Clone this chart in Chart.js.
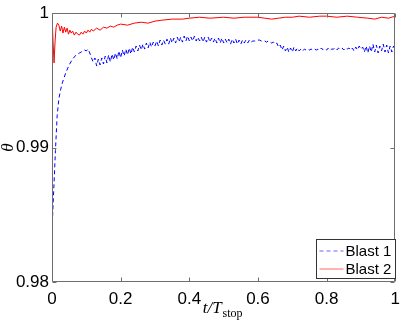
<!DOCTYPE html>
<html>
<head>
<meta charset="utf-8">
<script src="https://cdn.jsdelivr.net/npm/chart.js@4"></script>
<style>
html,body{margin:0;padding:0;background:#fff;}
#wrap{width:407px;height:323px;}
</style>
</head>
<body>
<div id="wrap"><canvas id="c" width="407" height="323"></canvas></div>
<script>
// ---- data ----
const xTicks = [0, 0.2, 0.4, 0.6, 0.8, 1];
const xTickLabels = ["0", "0.2", "0.4", "0.6", "0.8", "1"];
const yTicks = [0.98, 0.99, 1];
const yTickLabels = ["0.98", "0.99", "1"];
const seriesNames = ["Blast 1", "Blast 2"];

const blast1T = [
0,0.005,0.01,0.015,0.02,0.025,0.03,0.035,0.04,0.045,0.05,0.055,0.06,0.065,0.07,0.075,0.08,0.085,0.09,0.095,
0.1,0.105,0.11,0.115,0.12,0.125,0.13,0.135,0.14,0.145,0.15,0.155,0.16,0.165,0.17,0.175,0.18,0.185,0.19,0.195,
0.2,0.205,0.21,0.215,0.22,0.225,0.23,0.235,0.24,0.245,0.25,0.255,0.26,0.265,0.27,0.275,0.28,0.285,0.29,0.295,
0.3,0.305,0.31,0.315,0.32,0.325,0.33,0.335,0.34,0.345,0.35,0.355,0.36,0.365,0.37,0.375,0.38,0.385,0.39,0.395,
0.4,0.405,0.41,0.415,0.42,0.425,0.43,0.435,0.44,0.445,0.45,0.455,0.46,0.465,0.47,0.475,0.48,0.485,0.49,0.495,
0.5,0.505,0.51,0.515,0.52,0.525,0.53,0.535,0.54,0.545,0.55,0.555,0.56,0.565,0.57,0.575,0.58,0.585,0.59,0.595,
0.6,0.605,0.61,0.615,0.62,0.625,0.63,0.635,0.64,0.645,0.65,0.655,0.66,0.665,0.67,0.675,0.68,0.685,0.69,0.695,
0.7,0.705,0.71,0.715,0.72,0.725,0.73,0.735,0.74,0.745,0.75,0.755,0.76,0.765,0.77,0.775,0.78,0.785,0.79,0.795,
0.8,0.805,0.81,0.815,0.82,0.825,0.83,0.835,0.84,0.845,0.85,0.855,0.86,0.865,0.87,0.875,0.88,0.885,0.89,0.895,
0.9,0.905,0.91,0.915,0.92,0.925,0.93,0.935,0.94,0.945,0.95,0.955,0.96,0.965,0.97,0.975,0.98,0.985,0.99,0.995,1
];
const blast1V = [
0.98385,0.98681,0.98978,0.99237,0.99363,0.9943,0.99481,0.99519,0.99556,0.99585,0.99615,0.99637,0.99659,0.99674,0.99689,0.99696,0.99704,0.99711,0.99719,0.99726,
0.99719,0.99733,0.99704,0.99667,0.99637,0.99667,0.99607,0.99659,0.99615,0.99667,0.99622,0.99681,0.9963,0.99689,0.99637,0.99696,0.99652,0.99704,0.99659,0.99719,
0.99667,0.99726,0.99681,0.99733,0.99689,0.99741,0.99696,0.99748,0.99711,0.99756,0.99719,0.99763,0.99726,0.9977,0.99733,0.99778,0.99741,0.99785,0.99748,0.99785,
0.99756,0.99793,0.99756,0.998,0.99763,0.998,0.9977,0.99807,0.9977,0.99815,0.99778,0.99815,0.99778,0.99822,0.99785,0.99822,0.99785,0.9983,0.99793,0.9983,
0.99793,0.99822,0.99793,0.9983,0.99793,0.99822,0.99793,0.99822,0.99785,0.99822,0.99785,0.99822,0.99785,0.99815,0.99785,0.99815,0.99778,0.99815,0.99778,0.99815,
0.99778,0.99807,0.99778,0.99807,0.9977,0.99807,0.99778,0.99807,0.9977,0.998,0.9977,0.998,0.99778,0.998,0.99778,0.998,0.99785,0.99793,0.99793,0.99793,
0.998,0.998,0.99793,0.99793,0.99793,0.99785,0.99793,0.99785,0.99778,0.99785,0.9977,0.99778,0.99748,0.99763,0.99726,0.99756,0.99719,0.99748,0.99711,0.99741,
0.99711,0.99748,0.99719,0.99741,0.99719,0.99733,0.99719,0.99733,0.99726,0.99733,0.99726,0.99733,0.99726,0.99733,0.99726,0.99733,0.99726,0.99741,0.99726,0.99733,
0.99726,0.99741,0.99726,0.99733,0.99733,0.99741,0.99726,0.99741,0.99733,0.99741,0.99726,0.99741,0.99733,0.99741,0.99726,0.99741,0.99719,0.99748,0.99726,0.99756,
0.99733,0.99748,0.99711,0.99756,0.99704,0.99756,0.99711,0.9977,0.99711,0.99763,0.99704,0.99756,0.99719,0.9977,0.99711,0.99763,0.99704,0.99756,0.99711,0.99756,0.99733
];

const blast2T = [
0,0.003,0.006,0.009,0.012,0.016,0.02,0.024,0.028,0.032,0.036,0.04,0.044,0.048,0.052,0.056,0.06,0.065,0.07,0.075,
0.08,0.085,0.09,0.095,0.1,0.105,0.11,0.115,0.12,0.13,0.14,0.15,0.16,0.17,0.18,0.19,0.2,0.22,0.24,0.26,
0.28,0.3,0.32,0.35,0.38,0.4,0.43,0.46,0.5,0.53,0.56,0.6,0.62,0.64,0.66,0.68,0.7,0.72,0.75,0.78,
0.8,0.83,0.86,0.89,0.92,0.94,0.96,0.98,1
];
const blast2V = [
1.0,0.99793,0.9963,0.99793,0.99896,0.99926,0.99911,0.99867,0.99904,0.99852,0.99896,0.99859,0.99889,0.99844,0.99874,0.99852,0.99867,0.99837,0.99859,0.99844,
0.99837,0.99859,0.99844,0.99867,0.99852,0.99874,0.99859,0.99881,0.99867,0.99889,0.99874,0.99896,0.99889,0.99904,0.99896,0.99911,0.99919,0.99911,0.99926,0.99933,
0.99926,0.99941,0.99948,0.99956,0.99956,0.99963,0.9997,0.99963,0.9997,0.99963,0.9997,0.9997,0.99963,0.99956,0.99963,0.9997,0.9997,0.99978,0.9997,0.99978,
0.99978,0.9997,0.99978,0.9997,0.99963,0.99956,0.9997,0.99963,0.99978
];

const seriesColors = ["#0000ff", "#ff0000"];
// ---- chart ----
function toPts(t, v){ return t.map((x,i)=>({x:x, y:v[i]})); }

const frameColor = "#6e6e6e";

const framePlugin = {
  id: "frame",
  afterDatasetsDraw(chart){
    const ctx = chart.ctx, a = chart.chartArea;
    const xs = chart.scales.x, ys = chart.scales.y;
    ctx.save();
    ctx.strokeStyle = frameColor;
    ctx.lineWidth = 1;
    const L = Math.round(a.left)+0.5, R = Math.round(a.right)-0.5, T = Math.round(a.top)+0.5, B = Math.round(a.bottom)-0.5;
    ctx.beginPath();
    ctx.rect(L, T, R-L, B-T);
    ctx.stroke();
    ctx.beginPath();
    xTicks.forEach(v=>{
      const px = Math.round(xs.getPixelForValue(v))+0.5;
      ctx.moveTo(px, B); ctx.lineTo(px, B-4);
      ctx.moveTo(px, T); ctx.lineTo(px, T+4);
    });
    yTicks.forEach(v=>{
      const py = Math.round(ys.getPixelForValue(v))+0.5;
      ctx.moveTo(L, py); ctx.lineTo(L+4, py);
      ctx.moveTo(R, py); ctx.lineTo(R-4, py);
    });
    ctx.stroke();

    // legend box
    const bx = 316.5, by = 239.5, bw = 79, bh = 39;
    ctx.fillStyle = "#fff";
    ctx.fillRect(bx, by, bw, bh);
    ctx.strokeStyle = "#333";
    ctx.strokeRect(bx, by, bw, bh);
    ctx.font = '15px "Liberation Sans", Arial, sans-serif';
    ctx.textBaseline = "middle";
    ctx.textAlign = "left";
    chart.data.datasets.forEach((ds, i)=>{
      const yy = by + 11.5 + i*18;
      ctx.save();
      ctx.strokeStyle = ds.borderColor;
      ctx.globalAlpha = 0.6;
      ctx.setLineDash(ds.borderDash || []);
      ctx.beginPath();
      ctx.moveTo(bx+3, yy); ctx.lineTo(bx+27, yy);
      ctx.stroke();
      ctx.restore();
      ctx.fillStyle = "#000";
      ctx.fillText(ds.label, bx+29, yy+1);
    });

    // x axis title: t/T_stop
    ctx.fillStyle = "#000";
    ctx.textBaseline = "alphabetic";
    const main = "t/T", sub = "stop";
    ctx.font = 'italic 17px "Liberation Serif", "DejaVu Serif", serif';
    const w1 = ctx.measureText(main).width;
    ctx.font = '12px "Liberation Serif", "DejaVu Serif", serif';
    const w2 = ctx.measureText(sub).width;
    const cx = (a.left + a.right)/2 - 1;
    const x0 = cx - (w1 + w2 + 1)/2;
    ctx.font = 'italic 17px "Liberation Serif", "DejaVu Serif", serif';
    ctx.fillText(main, x0, 313);
    ctx.font = '12px "Liberation Serif", "DejaVu Serif", serif';
    ctx.fillText(sub, x0 + w1 + 1, 317);

    // y axis title: theta
    ctx.save();
    ctx.translate(13, (a.top + a.bottom)/2);
    ctx.rotate(-Math.PI/2);
    ctx.font = 'italic 17px "Liberation Serif", "DejaVu Serif", serif';
    ctx.textAlign = "center";
    ctx.fillText("θ", 0, 0);
    ctx.restore();
    ctx.restore();
  }
};

new Chart(document.getElementById("c"), {
  type: "line",
  data: {
    datasets: [
      { label: seriesNames[0], data: toPts(blast1T, blast1V), borderColor: seriesColors[0], borderWidth: 1, borderDash: [4,3], pointRadius: 0, tension: 0, fill: false },
      { label: seriesNames[1], data: toPts(blast2T, blast2V), borderColor: seriesColors[1], borderWidth: 1, pointRadius: 0, tension: 0, fill: false }
    ]
  },
  options: {
    responsive: false,
    animation: false,
    devicePixelRatio: 1,
    layout: { padding: { top: 12, right: 8, left: 0, bottom: 0 } },
    plugins: { legend: { display: false }, tooltip: { enabled: false } },
    scales: {
      x: {
        type: "linear", min: 0, max: 1,
        afterFit(s){ s.height = 41; },
        afterBuildTicks(s){ s.ticks = xTicks.map(v=>({value:v})); },
        grid: { display: false, drawTicks: false },
        border: { display: false },
        ticks: { color: "#000", padding: 7, maxRotation: 0,
          callback(v){ const i = xTicks.indexOf(v); return i >= 0 ? xTickLabels[i] : ""; },
          font: { family: '"Liberation Sans", Arial, sans-serif', size: 17 } }
      },
      y: {
        type: "linear", min: 0.98, max: 1,
        afterFit(s){ s.width = 52; },
        afterBuildTicks(s){ s.ticks = yTicks.map(v=>({value:v})); },
        grid: { display: false, drawTicks: false },
        border: { display: false },
        ticks: { color: "#000", padding: 3,
          callback(v){ const i = yTicks.indexOf(v); return i >= 0 ? yTickLabels[i] : ""; },
          font: { family: '"Liberation Sans", Arial, sans-serif', size: 17 } }
      }
    }
  },
  plugins: [framePlugin]
});
</script>
</body>
</html>
